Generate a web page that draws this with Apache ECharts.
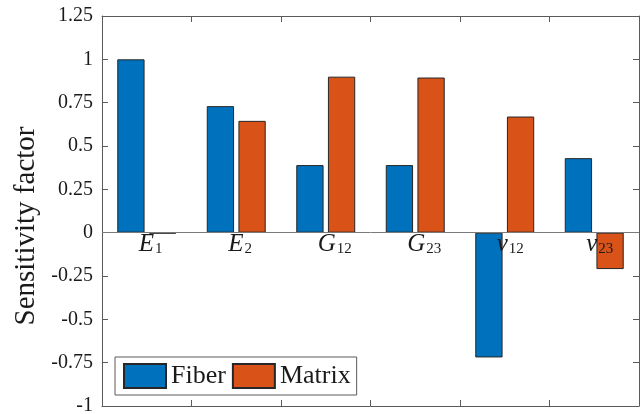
<!DOCTYPE html>
<html>
<head>
<meta charset="utf-8">
<script src="https://cdn.jsdelivr.net/npm/echarts@6/dist/echarts.min.js"></script>
<style>html,body{margin:0;padding:0;background:#fff}#c{width:642px;height:414px}</style>
</head>
<body>
<div id="c"></div>
<script>
var categories = [['E','1'],['E','2'],['G','12'],['G','23'],['v','12'],['v','23']];
var fiberValues = [1.0, 0.73, 0.39, 0.39, -0.72, 0.43];
var matrixValues = [-0.005, 0.645, 0.90, 0.895, 0.67, -0.21];
var yTicks = [-1, -0.75, -0.5, -0.25, 0, 0.25, 0.5, 0.75, 1, 1.25];

var serif = 'Liberation Serif';
var axisColor = '#5a5a5a';
var catNames = categories.map(function(c){ return c[0] + '_' + c[1]; });

// measure label widths so that each label starts slightly left of its category centre
var cv = document.createElement('canvas').getContext('2d');
var rich = {
  m: { fontFamily: serif, fontStyle: 'italic', fontSize: 25, color: '#1a1a1a', verticalAlign: 'top', lineHeight: 25 },
  s: { fontFamily: serif, fontSize: 15, color: '#1a1a1a', verticalAlign: 'top', padding: [10,0,0,1], lineHeight: 25 }
};
categories.forEach(function(c, i){
  cv.font = 'italic 25px "Liberation Serif"';
  var w1 = cv.measureText(c[0]).width;
  cv.font = '15px "Liberation Serif"';
  var w2 = cv.measureText(c[1]).width;
  var vis = w1 + w2 + 1;
  rich['sp' + i] = { width: Math.max(0, vis - 16), lineHeight: 25, fontSize: 15 };
});

var chart = echarts.init(document.getElementById('c'));
chart.setOption({
  animation: false,
  backgroundColor: '#fff',
  grid: { left: 102, right: 3, top: 16, bottom: 8, show: false, containLabel: false, outerBoundsMode: 'none' },
  legend: {
    left: 115, top: 357,
    orient: 'horizontal',
    icon: 'rect',
    itemWidth: 42, itemHeight: 24, itemGap: 6,
    padding: [6, 6, 6, 8],
    borderColor: '#5a5a5a', borderWidth: 1, backgroundColor: '#fff',
    textStyle: { fontFamily: serif, fontSize: 26, color: '#1a1a1a', lineHeight: 24 },
    data: ['Fiber', 'Matrix']
  },
  xAxis: [
    {
      type: 'category', data: catNames, position: 'bottom',
      axisLine: { show: true, onZero: false, lineStyle: { color: axisColor } },
      axisTick: { show: true, inside: true, length: 6, interval: 0, lineStyle: { color: axisColor } },
      axisLabel: {
        margin: -174,
        interval: 0,
        hideOverlap: false,
        align: 'center',
        formatter: function(v, i){ var c = categories[i]; return '{sp' + i + '|}{m|' + c[0] + '}{s|' + c[1] + '}'; },
        rich: rich
      },
      z: 5
    },
    {
      type: 'category', data: catNames, position: 'top',
      axisLine: { show: true, onZero: false, lineStyle: { color: axisColor } },
      axisTick: { show: true, inside: true, length: 6, interval: 0, lineStyle: { color: axisColor } },
      axisLabel: { show: false, interval: 0 }
    }
  ],
  yAxis: [
    {
      type: 'value', min: -1, max: 1.25, interval: 0.25, position: 'left',
      name: 'Sensitivity factor', nameLocation: 'middle', nameGap: 58,
      nameTextStyle: { fontFamily: serif, fontSize: 29, color: '#1a1a1a', padding: [0, 30, 0, 0] },
      axisLine: { show: true, onZero: false, lineStyle: { color: axisColor } },
      axisTick: { show: true, inside: true, length: 6, lineStyle: { color: axisColor } },
      axisLabel: {
        fontFamily: serif, fontSize: 20, color: '#1a1a1a', margin: 9,
        formatter: function(v){ var r = Math.round(v*100)/100; return yTicks.indexOf(r) >= 0 ? String(r) : ''; }
      },
      splitLine: { show: false }
    },
    {
      type: 'value', min: -1, max: 1.25, interval: 0.25, position: 'right',
      axisLine: { show: true, onZero: false, lineStyle: { color: axisColor } },
      axisTick: { show: true, inside: true, length: 6, lineStyle: { color: axisColor } },
      axisLabel: { show: false },
      splitLine: { show: false }
    }
  ],
  series: [
    {
      name: 'Fiber', type: 'bar', data: fiberValues, xAxisIndex: 0, yAxisIndex: 0,
      barWidth: '30.5%', barGap: '16%',
      itemStyle: { color: '#0072BD', borderColor: '#262626', borderWidth: 1 },
      markLine: {
        silent: true, symbol: 'none', label: { show: false },
        lineStyle: { color: '#7a7a7a', type: 'solid', width: 1 },
        data: [{ yAxis: 0 }]
      }
    },
    {
      name: 'Matrix', type: 'bar', data: matrixValues, xAxisIndex: 0, yAxisIndex: 0,
      barWidth: '30.5%', barGap: '16%',
      itemStyle: { color: '#D95319', borderColor: '#262626', borderWidth: 1 }
    }
  ]
});
</script>
</body>
</html>
